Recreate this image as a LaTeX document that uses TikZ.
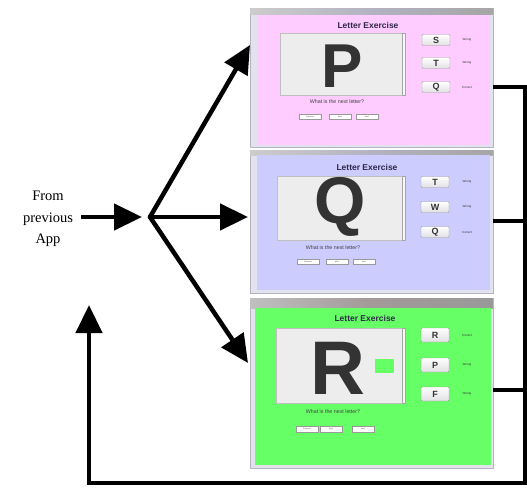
\documentclass[tikz,border=0pt]{standalone}
\usepackage{fontspec}
\setmainfont{Liberation Serif}
\newfontfamily\uisans{Liberation Sans}
\usetikzlibrary{arrows.meta}
\definecolor{pinkbg}{HTML}{FFCCFF}
\definecolor{lavbg}{HTML}{CCCCFF}
\definecolor{grnbg}{HTML}{66FF66}
\definecolor{framec}{HTML}{E2E2EC}
\definecolor{frameline}{HTML}{B4B4C4}
\definecolor{titlec}{HTML}{302848}
\definecolor{letterc}{HTML}{333333}
\tikzset{
  conn/.style={line width=4.5pt, black},
  arr/.style={conn, -{Triangle[length=28pt,width=26pt]}},
  winframe/.style={draw=frameline, fill=framec, line width=0.8pt},
  tbar/.style={left color=HTML-dummy},
  display/.style={draw=black!25, fill=black!7, line width=0.4pt},
  scrollb/.style={draw=black!35, fill=black!3, line width=0.3pt},
  bigbtn/.style={draw=black!40, line width=0.4pt, top color=white, bottom color=blue!12!black!12,
     rounded corners=1pt, minimum width=28pt, minimum height=11pt, inner sep=0pt,
     font=\uisans\bfseries\fontsize{9}{9}\selectfont, text=black!80},
  smallbtn/.style={draw=black!40, line width=0.3pt, fill=white, minimum width=22pt, minimum height=5pt,
     inner sep=0pt, font=\uisans\fontsize{2}{2}\selectfont, text=black!70},
  wtitle/.style={font=\uisans\bfseries\fontsize{8.5}{8.5}\selectfont, text=titlec, inner sep=0pt},
  resl/.style={font=\uisans\fontsize{3}{3}\selectfont, text=black!80, inner sep=0pt},
  quest/.style={font=\uisans\fontsize{5.3}{5.3}\selectfont, text=black!75, inner sep=0pt},
  bigletter/.style={text=letterc, inner sep=0pt},
}
\begin{document}
\begin{tikzpicture}[x=1pt,y=-1pt]
\useasboundingbox (0,0) rectangle (527,487);
\fill[white] (0,0) rectangle (527,487);

% ---------- Panel 1 (pink) ----------
\node[winframe, minimum width=243pt, minimum height=139pt, inner sep=0pt] (f1) at (371.5,77.5) {};
\shade[left color=black!20, right color=black!35, middle color=blue!20!black!30] (250.5,8.5) rectangle (492.5,15);
\fill[pinkbg] (257,15) rectangle (490,145);
\node[wtitle] (t1) at (368,25) {Letter Exercise};
\draw[display] (280,33) rectangle (402,95);
\draw[scrollb] (402,33) rectangle (405,95);
\node[bigletter, font=\uisans\bfseries\fontsize{62}{62}\selectfont] (l1) at (342,66) {P};
\node[bigbtn] (b11) at (436,40) {S};
\node[bigbtn] (b12) at (436,63) {T};
\node[bigbtn] (b13) at (436,87) {Q};
\node[resl] (r11) at (467,40) {Wrong};
\node[resl] (r12) at (467,63) {Wrong};
\node[resl] (r13) at (467,87) {Correct};
\node[quest] (q1) at (337,102) {What is the next letter?};
\node[smallbtn] (s11) at (310,117) {Previous};
\node[smallbtn] (s12) at (340,117) {play};
\node[smallbtn] (s13) at (367,117) {next};

% ---------- Panel 2 (lavender) ----------
\node[winframe, minimum width=243pt, minimum height=143pt, inner sep=0pt] (f2) at (371.5,221.5) {};
\shade[left color=black!20, right color=black!35, middle color=blue!20!black!30] (250.5,150.5) rectangle (492.5,155);
\fill[lavbg] (257,155) rectangle (490,290);
\node[wtitle] (t2) at (367,167) {Letter Exercise};
\draw[display] (277,176) rectangle (402,240);
\draw[scrollb] (402,176) rectangle (405,240);
\node[bigletter, font=\uisans\bfseries\fontsize{66}{66}\selectfont] (l2) at (340,207) {Q};
\node[bigbtn] (b21) at (435,182) {T};
\node[bigbtn] (b22) at (435,207) {W};
\node[bigbtn] (b23) at (435,232) {Q};
\node[resl] (r21) at (467,182) {Wrong};
\node[resl] (r22) at (467,207) {Wrong};
\node[resl] (r23) at (467,232) {Correct};
\node[quest] (q2) at (333,248) {What is the next letter?};
\node[smallbtn] (s21) at (308,262) {Previous};
\node[smallbtn] (s22) at (337,262) {play};
\node[smallbtn] (s23) at (364,262) {next};

% ---------- Panel 3 (green) ----------
\node[winframe, minimum width=243pt, minimum height=170pt, inner sep=0pt] (f3) at (371.5,383) {};
\shade[left color=black!25, right color=black!40, middle color=red!10!black!40] (250.5,298.5) rectangle (492.5,308);
\fill[grnbg] (255,308) rectangle (491,465);
\node[wtitle] (t3) at (365,318) {Letter Exercise};
\draw[display] (276,328) rectangle (402,403);
\draw[scrollb] (402,328) rectangle (405,403);
\node[bigletter, font=\uisans\bfseries\fontsize{76}{76}\selectfont] (l3) at (338,368) {R};
\fill[grnbg] (375,359) rectangle (394,373);
\node[bigbtn, minimum height=14pt] (b31) at (435,335) {R};
\node[bigbtn, minimum height=14pt] (b32) at (435,365) {P};
\node[bigbtn, minimum height=14pt] (b33) at (435,394) {F};
\node[resl] (r31) at (467,335) {Correct};
\node[resl] (r32) at (467,365) {Wrong};
\node[resl] (r33) at (467,394) {Wrong};
\node[quest] (q3) at (333,412) {What is the next letter?};
\node[smallbtn, minimum height=6pt] (s31) at (307,429) {Previous};
\node[smallbtn, minimum height=6pt] (s32) at (331,429) {play};
\node[smallbtn, minimum height=6pt] (s33) at (363,429) {next};

% ---------- Left side ----------
\node[align=center, font=\fontsize{14.5}{21.5}\selectfont, inner sep=0pt] (from) at (48,219) {From\\previous\\App};
\coordinate (fan) at (150,217);
\coordinate (in1) at (250,45);
\coordinate (in2) at (248,217);
\coordinate (in3) at (248,363);
\draw[arr, shorten >=8pt] ([xshift=8pt]from.east |- fan) -- (fan);
\draw[arr, line cap=round] (fan) -- (in1);
\draw[arr] (fan) -- (in2);
\draw[arr, line cap=round] (fan) -- (in3);

% ---------- Return bus ----------
\coordinate (o1) at (f1.east |- b13);
\coordinate (o2) at (f2.east |- 0,221);
\coordinate (o3) at (f3.east |- 0,390);
\coordinate (bt) at (525,87);
\coordinate (bb) at (525,483);
\coordinate (bl) at (89,483);
\coordinate (back) at (89,305);
\draw[conn] (o2) -- (o2 -| bt);
\draw[conn] (o3) -- (o3 -| bt);
\draw[arr] (o1) -- (bt) -- (bb) -- (bl) -- (back);
\end{tikzpicture}
\end{document}
